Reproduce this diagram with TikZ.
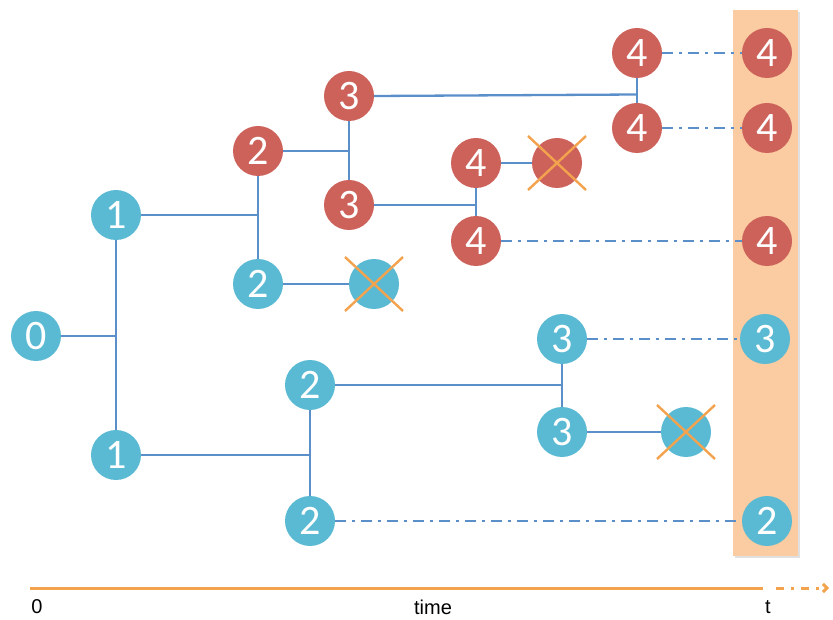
\documentclass[tikz,border=0pt]{standalone}
\usepackage{fontspec}
\setmainfont{Liberation Sans}
\newfontfamily\numfont{Carlito}
\usetikzlibrary{arrows.meta}
\definecolor{cblue}{HTML}{5BBAD3}
\definecolor{cred}{HTML}{CD625B}
\definecolor{lblue}{HTML}{5B8FCA}
\definecolor{corange}{HTML}{F3A24E}
\definecolor{cband}{HTML}{FBCBA1}
\tikzset{
  pnode/.style={circle,minimum size=50pt,inner sep=0pt,text=white,font=\numfont\fontsize{42}{42}\selectfont},
  bnode/.style={pnode,fill=cblue},
  rnode/.style={pnode,fill=cred},
  link/.style={draw=lblue,line width=2.3pt},
  future/.style={link,dash pattern=on 11pt off 6pt on 3pt off 6pt},
  crossline/.style={draw=corange,line width=2.4pt},
  axislabel/.style={font=\fontsize{20}{20}\selectfont,text=black}
}
\begin{document}
\begin{tikzpicture}[x=1pt,y=-1pt]
\useasboundingbox (0,0) rectangle (833,620);
% band
\fill[black!12] (735,12) rectangle (800,558);
\fill[cband] (733,10) rectangle (798,556);
% nodes
\node[bnode] (n0) at (36,336) {0};
\node[bnode] (n1a) at (116,215) {1};
\node[bnode] (n1b) at (116,455) {1};
\node[rnode] (r2) at (258,151) {2};
\node[bnode] (b2a) at (258,284) {2};
\node[bnode] (xb1) at (374,284) {};
\node[rnode] (r3a) at (349,96) {3};
\node[rnode] (r3b) at (349,205) {3};
\node[rnode] (r4a) at (476,163) {4};
\node[rnode] (r4b) at (476,241) {4};
\node[rnode] (xr1) at (557,163) {};
\node[rnode] (r4c) at (637,53) {4};
\node[rnode] (r4d) at (637,128) {4};
\node[bnode] (b2b) at (310,385) {2};
\node[bnode] (b2c) at (310,521) {2};
\node[bnode] (b3a) at (562,339) {3};
\node[bnode] (b3b) at (562,432) {3};
\node[bnode] (xb2) at (686,432) {};
\node[rnode] (f4a) at (767,53) {4};
\node[rnode] (f4b) at (767,128) {4};
\node[rnode] (f4c) at (767,241) {4};
\node[bnode] (f3) at (765,339) {3};
\node[bnode] (f2) at (767,521) {2};
% tree links
\draw[link] (n0.east) -- (n0 -| n1a);
\draw[link] (n1a.south) -- (n1b.north);
\draw[link] (n1a.east) -- (n1a -| r2);
\draw[link] (r2.south) -- (b2a.north);
\draw[link] (r2.east) -- (r2 -| r3a);
\draw[link] (r3a.south) -- (r3b.north);
\draw[link] (r3a.east) -- ([yshift=1.5pt]r3a -| r4c);
\draw[link] (r4c.south) -- (r4d.north);
\draw[link] (r3b.east) -- (r3b -| r4a);
\draw[link] (r4a.south) -- (r4b.north);
\draw[link] (r4a.east) -- (xr1.west);
\draw[link] (b2a.east) -- (xb1.west);
\draw[link] (n1b.east) -- (n1b -| b2b);
\draw[link] (b2b.south) -- (b2c.north);
\draw[link] (b2b.east) -- (b2b -| b3a);
\draw[link] (b3a.south) -- (b3b.north);
\draw[link] (b3b.east) -- (xb2.west);
% futures
\draw[future] (r4c.east) -- (f4a.west);
\draw[future] (r4d.east) -- (f4b.west);
\draw[future] (r4b.east) -- (f4c.west);
\draw[future] (b3a.east) -- (f3.west);
\draw[future] (b2c.east) -- (f2.west);
% crosses
\foreach \c in {xb1,xr1,xb2}{
  \draw[crossline] ([shift={(-29,-27)}]\c.center) -- ([shift={(29,27)}]\c.center);
  \draw[crossline] ([shift={(-29,27)}]\c.center) -- ([shift={(29,-27)}]\c.center);
}
% axis
\coordinate (a0) at (30,588);
\coordinate (a1) at (763,588);
\coordinate (a2) at (829,588);
\draw[corange,line width=3pt] (a0) -- (a1);
\draw[corange,line width=3pt,dash pattern=on 8pt off 7pt on 3pt off 7pt,-{Straight Barb[length=4pt,width=8pt]}] ([xshift=13pt]a1) -- (a2);
\node[axislabel] (l0) at (37,607) {0};
\node[axislabel] (lt) at (433,607) {time};
\node[axislabel] (lT) at (768,607) {t};
\end{tikzpicture}
\end{document}
